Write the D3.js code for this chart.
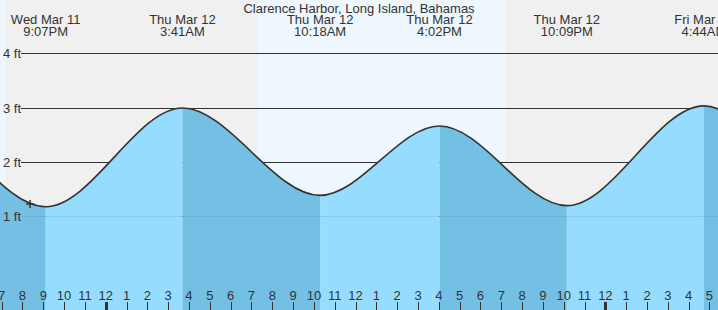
<!DOCTYPE html>
<html>
<head>
<meta charset="utf-8">
<script src="https://cdn.jsdelivr.net/npm/d3@7/dist/d3.min.js"></script>
<style>
  html, body { margin: 0; padding: 0; background: #f0f0f0; }
  svg { display: block; }
  text { font-family: "Liberation Sans", Arial, sans-serif; font-size: 13px; fill: #333; }
</style>
</head>
<body>
<svg id="chart" width="718" height="310"></svg>
<script>
// ---- data ----
const title = "Clarence Harbor, Long Island, Bahamas";
const viewStart = "2026-03-11T18:55:22";
const viewEnd = "2026-03-13T05:24:36";
const tideTimes = ["2026-03-11T08:20", "2026-03-11T14:40", "2026-03-11T21:07", "2026-03-12T03:41", "2026-03-12T10:18",
                   "2026-03-12T16:02", "2026-03-12T22:09", "2026-03-13T04:44", "2026-03-13T11:00", "2026-03-13T17:00"];
const tideHeights = [1.35, 2.8, 1.17, 2.99, 1.38, 2.66, 1.19, 3.03, 1.4, 2.7];
const tideDayLabels = ["", "", "Wed Mar 11", "Thu Mar 12", "Thu Mar 12", "Thu Mar 12", "Thu Mar 12", "Fri Mar 13", "", ""];
const tideTimeLabels = ["", "", "9:07PM", "3:41AM", "10:18AM", "4:02PM", "10:09PM", "4:44AM", "", ""];
const dayStarts = ["2026-03-11T07:15", "2026-03-12T07:16", "2026-03-13T07:15"];
const dayEnds = ["2026-03-11T19:12", "2026-03-12T19:11", "2026-03-13T19:11"];
const feetTicks = [1, 2, 3, 4];
const feetLabels = ["1 ft", "2 ft", "3 ft", "4 ft"];
const markerTime = "2026-03-11T20:22";
const markerHeight = 1.22;

// ---- setup ----
const W = 718, H = 310;
const parse = s => new Date(s + "Z");
const svg = d3.select("#chart");
const x = d3.scaleUtc().domain([parse(viewStart), parse(viewEnd)]).range([0, W]);
const y = d3.scaleLinear().domain([0, 4]).range([270.2, 53.3]);

const tides = tideTimes.map((t, i) => ({
  t: parse(t), h: tideHeights[i], day: tideDayLabels[i], time: tideTimeLabels[i]
}));

// background night
svg.append("rect").attr("x", 0).attr("y", 0).attr("width", W).attr("height", H).attr("fill", "#f0f0f0");
// daylight
svg.append("g").selectAll("rect").data(dayStarts).join("rect")
  .attr("x", (d, i) => x(parse(d)))
  .attr("width", (d, i) => x(parse(dayEnds[i])) - x(parse(d)))
  .attr("y", 0).attr("height", H)
  .attr("fill", "#eef7fe");

// grid lines
svg.append("g").selectAll("line").data(feetTicks).join("line")
  .attr("x1", 21).attr("x2", W)
  .attr("y1", d => Math.round(y(d)) + 0.5).attr("y2", d => Math.round(y(d)) + 0.5)
  .attr("stroke", "#333").attr("stroke-width", 1);

// water
const area = d3.area().x(d => x(d.t)).y0(H).y1(d => y(d.h)).curve(d3.curveMonotoneX);
const line = d3.line().x(d => x(d.t)).y(d => y(d.h)).curve(d3.curveMonotoneX);

svg.append("clipPath").attr("id", "water").append("path").attr("d", area(tides));
const wg = svg.append("g").attr("clip-path", "url(#water)");
wg.selectAll("rect").data(d3.pairs(tides)).join("rect")
  .attr("x", d => x(d[0].t))
  .attr("width", d => x(d[1].t) - x(d[0].t))
  .attr("y", 0).attr("height", H)
  .attr("fill", d => d[0].h > d[1].h ? "#74c0e4" : "#96dcfe");

// faint 1 ft line over water
wg.append("line")
  .attr("x1", 21).attr("x2", W)
  .attr("y1", Math.round(y(1)) + 0.5).attr("y2", Math.round(y(1)) + 0.5)
  .attr("stroke", "#000").attr("stroke-opacity", 0.07);

// tide curve
svg.append("path").attr("d", line(tides))
  .attr("fill", "none").attr("stroke", "#333").attr("stroke-width", 1.6);

// y labels
svg.append("g").selectAll("text").data(feetTicks).join("text")
  .attr("x", 3).attr("y", d => Math.round(y(d)) + 4.5)
  .text((d, i) => feetLabels[i]);

// title
svg.append("text").attr("x", W / 2).attr("y", 12.5).attr("text-anchor", "middle").text(title);

// tide extreme labels
const lab = svg.append("g").selectAll("g").data(tides.filter(d => d.day)).join("g");
lab.append("text").attr("x", d => x(d.t)).attr("y", 24).attr("text-anchor", "middle").text(d => d.day);
lab.append("text").attr("x", d => x(d.t)).attr("y", 36).attr("text-anchor", "middle").text(d => d.time);

// hour ticks
const hours = d3.utcHours(x.domain()[0], x.domain()[1]);
const fmt = d3.utcFormat("%-I");
const hg = svg.append("g");
hg.selectAll("line").data(hours).join("line")
  .attr("x1", d => Math.round(x(d)) + 0.5).attr("x2", d => Math.round(x(d)) + 0.5)
  .attr("y1", 302).attr("y2", H)
  .attr("stroke", "#333")
  .attr("stroke-width", d => d.getUTCHours() === 0 ? 3 : 1);
hg.selectAll("text").data(hours).join("text")
  .attr("x", d => x(d)).attr("y", 300).attr("text-anchor", "middle")
  .text(d => fmt(d));

// current time marker
const mx = x(parse(markerTime)), my = y(markerHeight);
svg.append("path")
  .attr("d", `M${mx - 4},${my}H${mx + 4}M${mx},${my - 4}V${my + 4}`)
  .attr("stroke", "#333").attr("stroke-width", 1.5).attr("fill", "none");
</script>
</body>
</html>
